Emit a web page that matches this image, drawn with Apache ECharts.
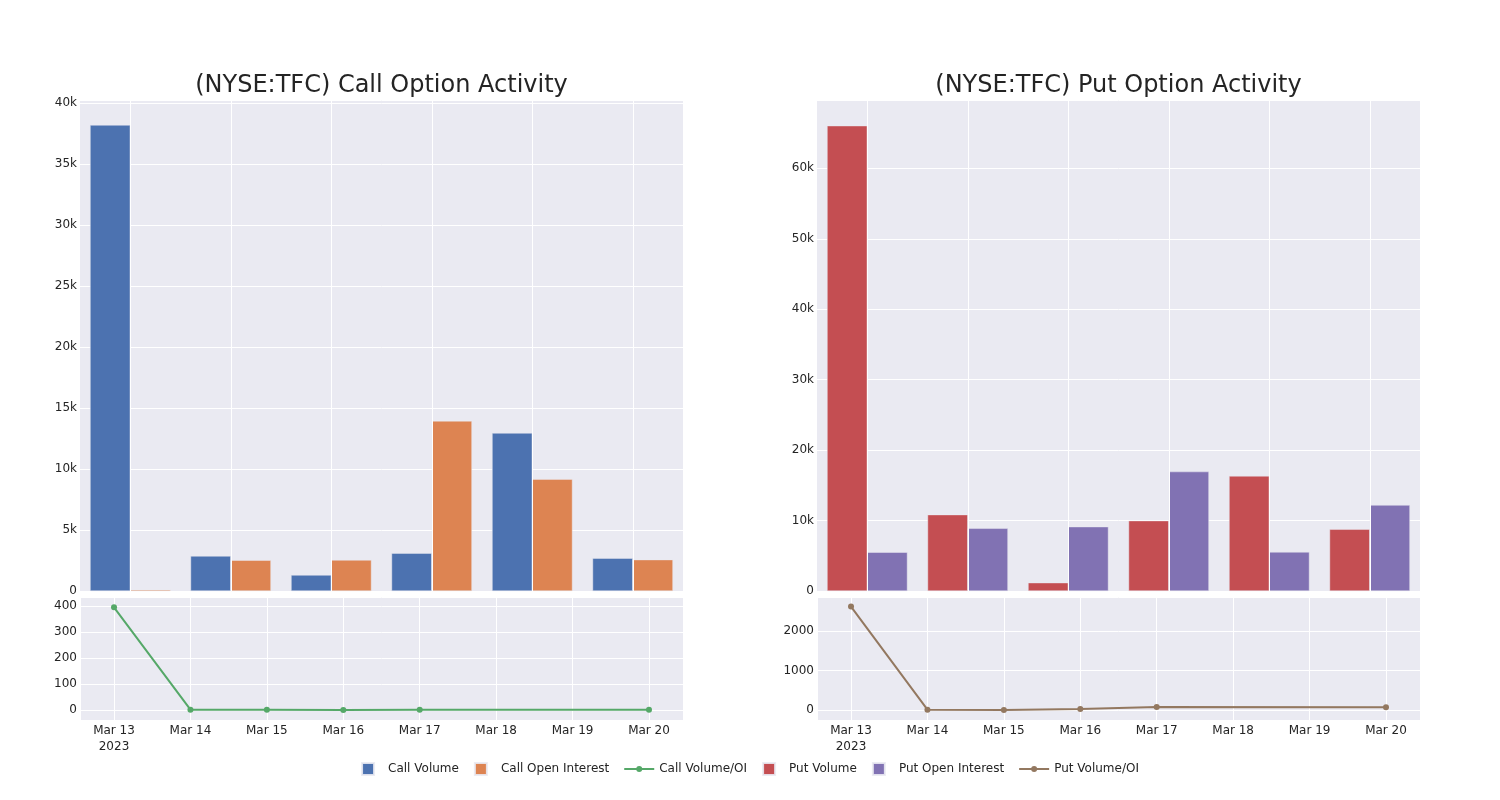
<!DOCTYPE html>
<html>
<head>
<meta charset="utf-8">
<script src="https://cdn.jsdelivr.net/npm/echarts@6/dist/echarts.min.js"></script>
<style>
html,body{margin:0;padding:0;background:#fff;}
#chart{width:1500px;height:800px;}
</style>
</head>
<body>
<div id="chart"></div>
<script>
// ---- data ----
var dates = ['2023-03-13', '2023-03-14', '2023-03-15', '2023-03-16', '2023-03-17', '2023-03-20'];
var callVolume = [38200, 2870, 1310, 3100, 12950, 2690];
var callOpenInterest = [97, 2520, 2540, 13940, 9170, 2570];
var callVolOI = [395, 1.1, 0.5, 0.2, 1.4, 1.0];
var putVolume = [66050, 10840, 1180, 9990, 16330, 8760];
var putOpenInterest = [5500, 8900, 9130, 16950, 5540, 12200];
var putVolOI = [2628, 8, 0, 25, 75, 70];
var titles = ['(NYSE:TFC) Call Option Activity', '(NYSE:TFC) Put Option Activity'];
var monthNames = ['Jan','Feb','Mar','Apr','May','Jun','Jul','Aug','Sep','Oct','Nov','Dec'];

// ---- styling ----
var FONT = 'DejaVu Sans';
var TXT = 'rgb(36,36,36)';
var BG = 'rgb(234,234,242)';
var C = {
  callVol: 'rgb(76,114,176)', callOI: 'rgb(221,132,82)', callRatio: 'rgb(85,168,104)',
  putVol: 'rgb(196,78,82)', putOI: 'rgb(129,114,179)', putRatio: 'rgb(147,120,96)'
};

function toTs(s) { var p = s.split('-'); return new Date(+p[0], +p[1] - 1, +p[2]).getTime(); }
var DAY = 86400000;
var firstTs = toTs(dates[0]);
var lastTs = toTs(dates[dates.length - 1]);
var pad = 0.445 * DAY;

function kFmt(v) { return v === 0 ? '0' : (v / 1000) + 'k'; }
function plainFmt(v) { return String(Math.round(v)); }
function dateFmt(v) {
  var d = new Date(v);
  if (d.getHours() !== 0 || d.getMinutes() !== 0) return '';
  var s = monthNames[d.getMonth()] + ' ' + d.getDate();
  if (d.getTime() === firstTs) s += '\n' + d.getFullYear();
  return s;
}

var LEFTS = [80, 817];
var W = 603;
var grids = [];
LEFTS.forEach(function (l) {
  grids.push({ left: l, top: 100, width: W, height: 491, show: true, backgroundColor: BG, borderWidth: 0 });
  grids.push({ left: l, top: 597, width: W, height: 123, show: true, backgroundColor: BG, borderWidth: 0 });
});

var axisLabelBase = { color: TXT, fontFamily: FONT, fontSize: 12 };
var yLabelBase = Object.assign({}, axisLabelBase, { margin: 3, padding: [3, 0, 0, 0] });
var gridLine = { show: true, lineStyle: { color: '#ffffff', width: 1 } };

var xAxes = [], yAxes = [];
[0, 1].forEach(function (side) {
  var gBar = side * 2, gLine = side * 2 + 1;
  xAxes.push({
    type: 'category', gridIndex: gBar, data: dates, boundaryGap: true,
    axisLabel: { show: false }, axisTick: { show: false }, axisLine: { show: false }, splitLine: { show: false }
  });
  xAxes.push({
    type: 'time', gridIndex: gLine, min: firstTs - pad, max: lastTs + pad,
    splitNumber: 8, maxInterval: DAY, minInterval: DAY,
    axisLabel: Object.assign({}, axisLabelBase, { formatter: dateFmt, margin: 3, lineHeight: 16, hideOverlap: false, showMinLabel: false, showMaxLabel: false }),
    axisTick: { show: false }, axisLine: { show: false }, splitLine: gridLine
  });
});
// y axes
yAxes.push({
  type: 'value', gridIndex: 0, min: 0, max: 40250, interval: 5000,
  axisLabel: Object.assign({}, yLabelBase, { formatter: kFmt, showMaxLabel: false }),
  axisTick: { show: false }, axisLine: { show: false }, splitLine: gridLine
});
yAxes.push({
  type: 'value', gridIndex: 1, min: -38.5, max: 434.6, splitNumber: 5,
  axisLabel: Object.assign({}, yLabelBase, { formatter: plainFmt, showMinLabel: false, showMaxLabel: false }),
  axisTick: { show: false }, axisLine: { show: false }, splitLine: gridLine
});
yAxes.push({
  type: 'value', gridIndex: 2, min: 0, max: 69700, interval: 10000,
  axisLabel: Object.assign({}, yLabelBase, { formatter: kFmt, showMaxLabel: false }),
  axisTick: { show: false }, axisLine: { show: false }, splitLine: gridLine
});
yAxes.push({
  type: 'value', gridIndex: 3, min: -254, max: 2872, splitNumber: 3,
  axisLabel: Object.assign({}, yLabelBase, { formatter: plainFmt, showMinLabel: false, showMaxLabel: false }),
  axisTick: { show: false }, axisLine: { show: false }, splitLine: gridLine
});

function barSeries(name, data, color, xi) {
  return {
    name: name, type: 'bar', xAxisIndex: xi, yAxisIndex: xi, data: data, z: 3,
    barGap: '0%', barCategoryGap: '20%',
    itemStyle: { color: color, borderColor: 'rgba(234,234,242,0.9)', borderWidth: 0.5 },
    emphasis: { disabled: true }
  };
}
function lineSeries(name, vals, color, xi) {
  return {
    name: name, type: 'line', xAxisIndex: xi, yAxisIndex: xi,
    data: dates.map(function (d, i) { return [toTs(d), vals[i]]; }),
    symbol: 'circle', symbolSize: 6, showSymbol: true,
    lineStyle: { color: color, width: 2 }, itemStyle: { color: color },
    emphasis: { disabled: true }
  };
}
function vGridSeries(xi) {
  return {
    type: 'line', xAxisIndex: xi, yAxisIndex: xi, data: [], z: 1, silent: true,
    markLine: {
      silent: true, symbol: ['none', 'none'], animation: false, label: { show: false },
      lineStyle: { color: '#ffffff', width: 1, type: 'solid' },
      emphasis: { disabled: true },
      data: dates.map(function (d) { return { xAxis: d }; })
    }
  };
}

var squareIcon = 'path://M0,0L12,0L12,12L0,12Z';
var lineIcon = 'path://M0,5L30,5L30,7L0,7Z M18,6A3,3 0 1,1 12,6A3,3 0 1,1 18,6Z';

var option = {
  backgroundColor: '#ffffff',
  animation: false,
  textStyle: { fontFamily: FONT },
  title: [
    { text: titles[0], left: 80 + W / 2, top: 74, textAlign: 'center', padding: 0,
      textStyle: { fontFamily: FONT, fontSize: 24, fontWeight: 'normal', color: TXT } },
    { text: titles[1], left: 817 + W / 2, top: 74, textAlign: 'center', padding: 0,
      textStyle: { fontFamily: FONT, fontSize: 24, fontWeight: 'normal', color: TXT } }
  ],
  legend: {
    left: 'center', top: 757, itemWidth: 30, itemHeight: 12, itemGap: 15,
    textStyle: { color: TXT, fontFamily: FONT, fontSize: 12 },
    data: [
      { name: 'Call Volume', icon: squareIcon },
      { name: 'Call Open Interest', icon: squareIcon },
      { name: 'Call Volume/OI', icon: lineIcon },
      { name: 'Put Volume', icon: squareIcon },
      { name: 'Put Open Interest', icon: squareIcon },
      { name: 'Put Volume/OI', icon: lineIcon }
    ],
    selectedMode: false
  },
  grid: grids,
  xAxis: xAxes,
  yAxis: yAxes,
  series: [
    vGridSeries(0),
    vGridSeries(2),
    barSeries('Call Volume', callVolume, C.callVol, 0),
    barSeries('Call Open Interest', callOpenInterest, C.callOI, 0),
    lineSeries('Call Volume/OI', callVolOI, C.callRatio, 1),
    barSeries('Put Volume', putVolume, C.putVol, 2),
    barSeries('Put Open Interest', putOpenInterest, C.putOI, 2),
    lineSeries('Put Volume/OI', putVolOI, C.putRatio, 3)
  ]
};

var chart = echarts.init(document.getElementById('chart'), null, { renderer: 'canvas' });
chart.setOption(option);
</script>
</body>
</html>
